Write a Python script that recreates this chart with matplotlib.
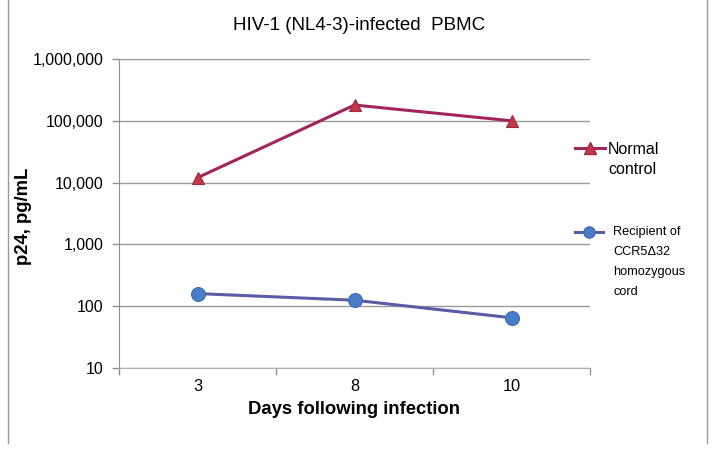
import matplotlib
matplotlib.use("Agg")
import matplotlib.pyplot as plt
from matplotlib.lines import Line2D
from matplotlib.ticker import FixedLocator, NullLocator

plt.rcParams['font.family'] = ['Liberation Sans', 'DejaVu Sans']

days = ["3", "8", "10"]
normal_control = [12000, 180000, 100000]
ccr5_recipient = [160, 125, 65]
y_ticks = [10, 100, 1000, 10000, 100000, 1000000]
y_labels = ["10", "100", "1,000", "10,000", "100,000", "1,000,000"]

W, H = 714, 451
fig = plt.figure(figsize=(W / 100, H / 100), dpi=100)
ax = fig.add_axes([119 / W, (H - 368) / H, (590 - 119) / W, (368 - 59) / H])

x = list(range(len(days)))
red_line = "#A3245C"
red_mk = "#C0394B"
blue_line = "#5A5DA6"
blue_mk = "#4A7DC8"

ax.plot(x, normal_control, color=red_line, lw=2.2, marker="^", ms=9,
        mfc=red_mk, mec="#A02840", mew=0.8, zorder=3)
ax.plot(x, ccr5_recipient, color=blue_line, lw=2.2, marker="o", ms=10,
        mfc=blue_mk, mec="#3F6DB0", mew=0.8, zorder=3)

ax.set_yscale("log")
ax.set_ylim(10, 1000000)
ax.yaxis.set_major_locator(FixedLocator(y_ticks))
ax.set_yticklabels(y_labels, fontsize=11.5)
ax.yaxis.set_minor_locator(NullLocator())
ax.set_xlim(-0.5, len(days) - 0.5)
ax.set_xticks(x)
ax.set_xticklabels(days, fontsize=11.8)
ax.tick_params(axis="x", length=0, pad=8)
ax.set_xticks([i - 0.5 for i in range(len(days) + 1)], minor=True)
ax.tick_params(axis="x", which="minor", length=5, color="#909090", width=1)
ax.tick_params(axis="y", length=5, color="#909090", width=1, pad=6)

ax.grid(axis="y", color="#9A9A9A", lw=1)
ax.set_axisbelow(True)
for s in ["top", "right"]:
    ax.spines[s].set_visible(False)
ax.spines["left"].set_color("#909090")
ax.spines["bottom"].set_color("#B0B0B0")

ax.set_xlabel("Days following infection", fontsize=13.3, fontweight="bold", labelpad=5)
ax.set_ylabel("p24, pg/mL", fontsize=13.3, fontweight="bold")
ax.yaxis.set_label_coords((32 - 119) / 471, 0.49)
fig.text(359 / W, 1 - 26 / H, "HIV-1 (NL4-3)-infected  PBMC", ha="center", va="center",
         fontsize=13.5)

# legend
def fx(px):
    return px / W
def fy(py):
    return 1 - py / H

fig.add_artist(Line2D([fx(575), fx(605)], [fy(148), fy(148)], color=red_line, lw=2.2,
                      transform=fig.transFigure))
fig.add_artist(Line2D([fx(590)], [fy(148)], marker="^", ms=8, mfc=red_mk, mec="#A02840",
                      transform=fig.transFigure))
fig.text(fx(608), fy(149), "Normal", fontsize=11.5, va="center", ha="left")
fig.text(fx(608), fy(169), "control", fontsize=11.5, va="center", ha="left")

fig.add_artist(Line2D([fx(575), fx(603)], [fy(232), fy(232)], color=blue_line, lw=2.2,
                      transform=fig.transFigure))
fig.add_artist(Line2D([fx(589)], [fy(232)], marker="o", ms=8, mfc=blue_mk, mec="#3F6DB0",
                      transform=fig.transFigure))
for i, t in enumerate(["Recipient of", "CCR5\u039432", "homozygous", "cord"]):
    fig.text(fx(613), fy(232 + 20 * i), t, fontsize=9.2, va="center", ha="left")

# outer frame lines
fig.add_artist(Line2D([fx(7.5), fx(7.5)], [fy(0), fy(443)], color="#9A9A9A", lw=1,
                      transform=fig.transFigure))
fig.add_artist(Line2D([fx(706.5), fx(706.5)], [fy(0), fy(443)], color="#9A9A9A", lw=1,
                      transform=fig.transFigure))

fig.savefig("out.png", dpi=100)
